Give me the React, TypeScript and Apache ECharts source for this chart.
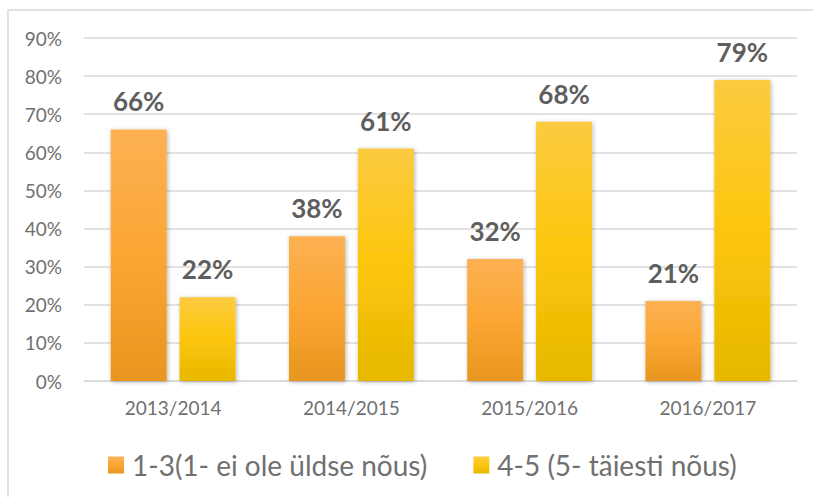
import React, { useEffect, useRef } from "react";
import * as echarts from "echarts";

const categories = ["2013/2014", "2014/2015", "2015/2016", "2016/2017"];
const seriesNames = ["1-3(1- ei ole üldse nõus)", "4-5 (5- täiesti nõus)"];
const lowValues = [66, 38, 32, 21];
const highValues = [22, 61, 68, 79];

const FONT = "Lato, 'Open Sans', sans-serif";

export default function App() {
  const ref = useRef<HTMLDivElement>(null);
  useEffect(() => {
    if (!ref.current) return;
    const chart = echarts.init(ref.current, null, { renderer: "svg" });
    const grad = (top: string, mid: string, bottom: string) =>
      new echarts.graphic.LinearGradient(0, 0, 0, 1, [
        { offset: 0, color: top },
        { offset: 0.5, color: mid },
        { offset: 1, color: bottom },
      ]);
    const orange = grad("#FDB153", "#FBA634", "#E8961F");
    const yellow = grad("#FCCB40", "#FDC60C", "#E6B800");
    const label = {
      show: true,
      position: "top" as const,
      distance: 15,
      formatter: "{c}%",
      fontFamily: FONT,
      fontWeight: "bold" as const,
      fontSize: 26,
      color: "#5E5E5E",
    };
    const shadow = {
      shadowBlur: 4,
      shadowColor: "rgba(0,0,0,0.3)",
      shadowOffsetX: 1,
      shadowOffsetY: 1,
    };
    chart.setOption({
      animation: false,
      backgroundColor: "#fff",
      graphic: [
        {
          type: "rect",
          shape: { x: 8, y: 10, width: 830, height: 520 },
          style: { fill: "none", stroke: "#D9D9D9", lineWidth: 1.5 },
          silent: true,
          z: -10,
        },
      ],
      grid: { left: 84, right: 16, top: 38, bottom: 116 },
      legend: {
        data: seriesNames,
        top: 451,
        left: 108,
        padding: 0,
        itemWidth: 16,
        itemHeight: 17,
        itemGap: 46,
        icon: "rect",
        textStyle: { fontFamily: FONT, fontSize: 28, color: "#707070", padding: [0, 0, 0, 3] },
      },
      xAxis: {
        type: "category",
        data: categories,
        axisLine: { lineStyle: { color: "#D9D9D9", width: 1.5 } },
        axisTick: { show: false },
        axisLabel: { fontFamily: FONT, fontSize: 19, color: "#707070", margin: 17 },
      },
      yAxis: {
        type: "value",
        min: 0,
        max: 90,
        interval: 10,
        axisLabel: {
          formatter: "{value}%",
          fontFamily: FONT,
          fontSize: 19,
          color: "#707070",
          margin: 22,
        },
        axisLine: { show: false },
        axisTick: { show: false },
        splitLine: { lineStyle: { color: "#D9D9D9", width: 1.5 } },
      },
      series: [
        {
          name: seriesNames[0],
          type: "bar",
          data: lowValues,
          barWidth: 56,
          barGap: "23%",
          itemStyle: { color: orange, ...shadow },
          label,
        },
        {
          name: seriesNames[1],
          type: "bar",
          data: highValues,
          barWidth: 56,
          itemStyle: { color: yellow, ...shadow },
          label,
        },
      ],
    });
    return () => chart.dispose();
  }, []);
  return (
    <div
      ref={ref}
      style={{ position: "absolute", left: 0, top: 0, width: 813, height: 497 }}
    />
  );
}
